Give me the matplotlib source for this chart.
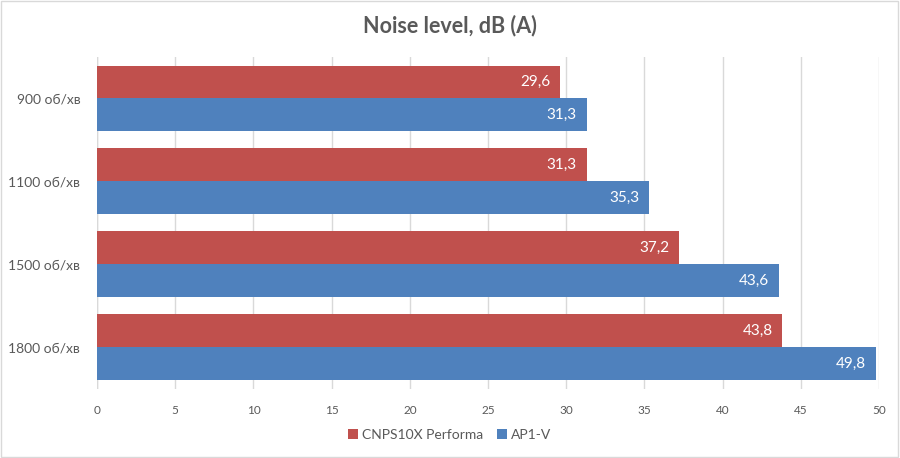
import matplotlib.pyplot as plt
from matplotlib.patches import Rectangle
import numpy as np

# data
categories = ['900 об/хв', '1100 об/хв', '1500 об/хв', '1800 об/хв']
cnps = [29.6, 31.3, 37.2, 43.8]
ap1v = [31.3, 35.3, 43.6, 49.8]
series_names = ['CNPS10X Performa', 'AP1-V']

red = '#C0504D'
blue = '#4F81BD'
grey_text = '#595959'

plt.rcParams['font.family'] = ['Lato', 'DejaVu Sans']

fig = plt.figure(figsize=(9, 4.58), dpi=100)
ax = fig.add_axes([0.1078, 0.1517, 0.8690, 0.7238])

y = np.arange(len(categories))
h = 0.3976
bars_r = ax.barh(y - h / 2, cnps, height=h, color=red, label=series_names[0], zorder=3)
bars_b = ax.barh(y + h / 2, ap1v, height=h, color=blue, label=series_names[1], zorder=3)

for bars in (bars_r, bars_b):
    for b in bars:
        v = b.get_width()
        ax.annotate(('%.1f' % v).replace('.', ','), (v, b.get_y() + b.get_height() / 2),
                    xytext=(-7, 0), textcoords='offset points', ha='right', va='center',
                    color='white', fontsize=11, zorder=4)

ax.set_xlim(0, 50)
ax.set_ylim(len(categories) - 0.5, -0.5)
ax.set_xticks(np.arange(0, 51, 5))
ax.set_yticks(y)
ax.set_yticklabels(categories)
ax.grid(axis='x', color='#D9D9D9', linewidth=1, zorder=0)
for s in ax.spines.values():
    s.set_visible(False)
ax.axvline(0, color='#D9D9D9', linewidth=1, zorder=2)
ax.tick_params(axis='both', length=0, colors=grey_text)
ax.tick_params(axis='x', labelsize=8.5, pad=12)
ax.tick_params(axis='y', labelsize=10, pad=12)

fig.suptitle('Noise level, dB (A)', x=0.5, y=0.967, fontsize=15.5, fontweight='bold', color=grey_text)

leg = fig.legend(loc='center', bbox_to_anchor=(0.5, 0.05), ncol=2, frameon=False,
                 fontsize=10, handlelength=0.7, handleheight=0.7, handletextpad=0.3,
                 columnspacing=1.0)
for t in leg.get_texts():
    t.set_color(grey_text)

fig.patches.append(Rectangle((0.001, 0.002), 0.997, 0.996, transform=fig.transFigure,
                             fill=False, edgecolor='#D9D9D9', linewidth=1))

fig.savefig('out.png', dpi=100)
